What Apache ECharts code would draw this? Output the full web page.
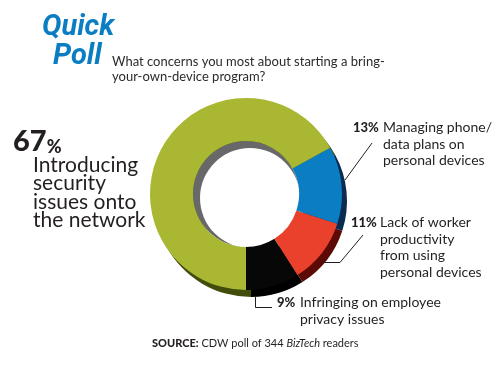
<!DOCTYPE html>
<html>
<head>
<meta charset="utf-8">
<script src="https://cdn.jsdelivr.net/npm/echarts@6/dist/echarts.min.js"></script>
<style>html,body{margin:0;padding:0;background:#fff}#c{width:500px;height:375px}</style>
</head>
<body>
<div id="c"></div>
<script>
// ---- data ----
const categories = [
  'Infringing on employee\nprivacy issues',
  'Lack of worker\nproductivity\nfrom using\npersonal devices',
  'Managing phone/\ndata plans on\npersonal devices',
  'Introducing\nsecurity\nissues onto\nthe network'
];
const values = [9, 11, 13, 67];
const titleWords = ['Quick', 'Poll'];
const question = 'What concerns you most about starting a bring-\nyour-own-device program?';
const sourceParts = ['SOURCE:', 'CDW poll of 344', 'BizTech', 'readers'];

// ---- style / layout ----
const faceColors = ['#070707', '#e9412b', '#0a7dc3', '#a9b733'];
const depthColors = ['#000000', '#5c0a05', '#0b2b50', '#434d0b'];
const FONT = 'Lato, "Open Sans", sans-serif';
const TXT = '#231f20';
const CENTER = [246, 194];
const DEPTH = [5, 7];
const R_IN = 53, R_OUT = 96;
const labelAnchors = [[277, 294], [351, 214], [353, 119], [13, 116]];
const pctWidths = [23, 29, 30, 0];
const LH = 16.7;

const chart = echarts.init(document.getElementById('c'), null, {renderer: 'canvas'});

const rich = {
  n: {fontFamily: FONT, fontSize: 14, color: TXT, lineHeight: LH},
  big: {fontFamily: FONT, fontSize: 29, fontWeight: 900, color: TXT, lineHeight: 40, verticalAlign: 'bottom'},
  pc: {fontFamily: FONT, fontSize: 18, fontWeight: 900, color: TXT, lineHeight: 32, verticalAlign: 'bottom'},
  t: {fontFamily: FONT, fontSize: 21, color: TXT, lineHeight: 18.3},
  sp: {width: 20, fontSize: 21, lineHeight: 18.3}
};
for (let i = 0; i < 3; i++) {
  rich['p' + i] = {fontFamily: FONT, fontSize: 13, fontWeight: 900, color: TXT, width: pctWidths[i], lineHeight: LH};
  rich['s' + i] = {fontSize: 14, width: pctWidths[i], lineHeight: LH};
}

function fmt(p) {
  const i = p.dataIndex;
  const lines = categories[i].split('\n');
  if (i === 3) {
    return '{big|' + values[i] + '}{pc|%}\n' + lines.map(l => '{sp| }{t|' + l + '}').join('\n');
  }
  return lines.map((l, k) => (k === 0 ? '{p' + i + '|' + values[i] + '%}' : '{s' + i + '| }') + '{n|' + l + '}').join('\n');
}

const dataFace = values.map((v, i) => ({value: v, name: categories[i], itemStyle: {color: faceColors[i]}}));
const dataDepth = values.map((v, i) => ({value: v, name: categories[i], itemStyle: {color: depthColors[i]}}));

const common = {
  type: 'pie', startAngle: 270, clockwise: false, animation: false, silent: true,
  avoidLabelOverlap: false, emphasis: {disabled: true}, itemStyle: {borderWidth: 0}
};

const TITLE_FONT = 'italic bold 29px Roboto, "Liberation Sans", Arial, sans-serif';

chart.setOption({
  animation: false,
  series: [
    Object.assign({}, common, {
      z: 1, center: [CENTER[0] + DEPTH[0], CENTER[1] + DEPTH[1]], radius: [R_IN, R_OUT],
      data: dataDepth, label: {show: false}, labelLine: {show: false}
    }),
    Object.assign({}, common, {
      z: 2, center: CENTER, radius: [0, R_IN],
      data: [{value: 1, itemStyle: {color: '#68686b'}}], label: {show: false}, labelLine: {show: false}
    }),
    Object.assign({}, common, {
      z: 3, center: [CENTER[0] + 4, CENTER[1] + 4], radius: [0, R_IN - 3],
      data: [{value: 1, itemStyle: {color: '#ffffff'}}], label: {show: false}, labelLine: {show: false}
    }),
    Object.assign({}, common, {
      z: 4, center: CENTER, radius: [R_IN, R_OUT],
      data: dataFace,
      label: {show: true, position: 'outside', formatter: fmt, rich: rich, color: TXT},
      labelLine: {show: false},
      labelLayout: function (params) {
        const a = labelAnchors[params.dataIndex];
        return {x: a[0], y: a[1], align: 'left', verticalAlign: 'top', hideOverlap: false, moveOverlap: null};
      }
    })
  ],
  graphic: [
    {type: 'text', left: 42, top: 13, style: {text: titleWords[0], font: TITLE_FONT, fill: '#0a7dc3'}},
    {type: 'text', left: 53, top: 42, style: {text: titleWords[1], font: TITLE_FONT, fill: '#0a7dc3'}},
    {type: 'text', x: 112, y: 54, style: {text: question, fontFamily: FONT, fontSize: 13, lineHeight: 15, fill: '#2b2b2b', verticalAlign: 'top'}},
    {type: 'text', x: 152, y: 336, style: {
      text: '{b|' + sourceParts[0] + '} ' + sourceParts[1] + ' {i|' + sourceParts[2] + '} ' + sourceParts[3],
      fontFamily: FONT, fontSize: 11, fill: TXT, verticalAlign: 'top', lineHeight: 15,
      rich: {b: {fontFamily: FONT, fontSize: 11, fontWeight: 900, fill: TXT, lineHeight: 15}, i: {fontFamily: FONT, fontSize: 11, fontStyle: 'italic', fill: TXT, lineHeight: 15}}
    }},
    {type: 'polyline', z: 10, shape: {points: [[345, 180], [372, 143]]}, style: {stroke: TXT, lineWidth: 1, fill: null}},
    {type: 'polyline', z: 10, shape: {points: [[323, 262.5], [340, 262.5], [363, 235]]}, style: {stroke: TXT, lineWidth: 1, fill: null}},
    {type: 'polyline', z: 10, shape: {points: [[255.5, 297], [255.5, 307.5], [272, 307.5]]}, style: {stroke: TXT, lineWidth: 1, fill: null}}
  ]
});
</script>
</body>
</html>
